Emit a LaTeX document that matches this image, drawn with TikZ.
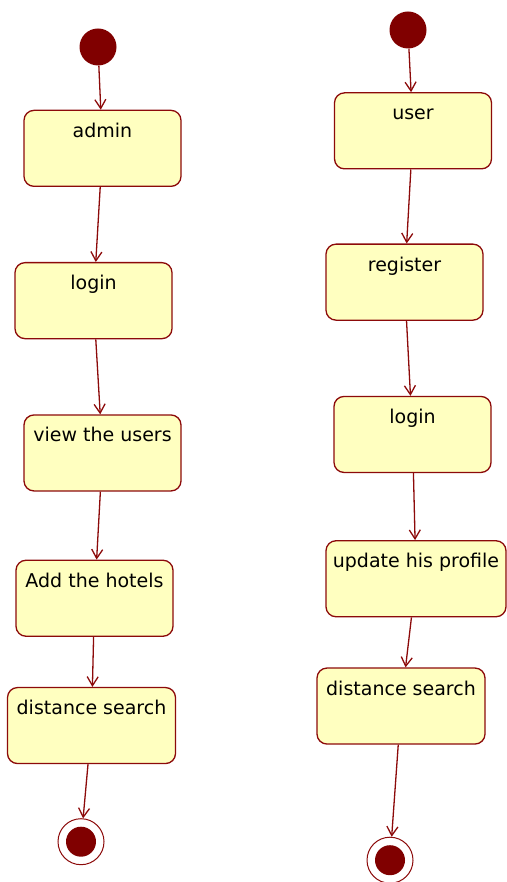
\documentclass[tikz,border=0pt]{standalone}
\usepackage{fontspec}
\setmainfont{DejaVu Sans}
\usetikzlibrary{positioning,arrows.meta}

\definecolor{umlred}{RGB}{128,0,0}
\definecolor{umlline}{RGB}{140,10,10}
\definecolor{umlfill}{RGB}{255,255,192}

\begin{document}
\begin{tikzpicture}[x=1pt,y=-1pt,node distance=76pt,
    activity/.style={rectangle,rounded corners=10pt,draw=umlline,fill=umlfill,line width=1.3pt,
      minimum width=157pt,inner xsep=4pt,inner ysep=6pt,text height=21pt,text depth=43pt,
      font=\fontsize{19}{22}\selectfont},
    initial/.style={circle,fill=umlred,minimum size=37pt,inner sep=0pt},
    final/.style={circle,draw=umlline,fill=white,line width=1pt,minimum size=46pt,inner sep=0pt,
      path picture={\fill[umlred] (path picture bounding box.center) circle (15pt);}},
    flow/.style={draw=umlline,line width=1.3pt,-{Straight Barb[length=9pt,width=11pt]}}]
  \useasboundingbox (0,0) rectangle (506,882);

  % admin side
  \node[initial] (startA) at (98,47) {};
  \node[activity] (admin) [below=44pt of startA, xshift=4.5pt] {admin};
  \node[activity] (loginA) [below=75pt of admin, xshift=-9pt] {login};
  \node[activity] (viewusers) [below=75pt of loginA, xshift=9pt] {view the users};
  \node[activity] (addhotels) [below=68pt of viewusers, xshift=-8pt] {Add the hotels};
  \node[activity,minimum width=168pt] (searchA) [below=50pt of addhotels, xshift=-3pt] {distance search};
  \node[final] (endA) [below=54pt of searchA, xshift=-10.5pt] {};

  % user side
  \node[initial] (startU) at (408,30) {};
  \node[activity] (user) [below=43.5pt of startU, xshift=5pt] {user};
  \node[activity] (register) [below=74pt of user, xshift=-8.5pt] {register};
  \node[activity] (loginU) [below=75pt of register, xshift=8pt] {login};
  \node[activity,minimum width=180pt] (profile) [below=67pt of loginU, xshift=3.5pt] {update his profile};
  \node[activity,minimum width=168pt] (searchU) [below=50pt of profile, xshift=-15pt] {distance search};
  \node[final] (endU) [below=92pt of searchU, xshift=-11pt] {};

  \path[flow]
    (startA)    edge (admin)
    (admin)     edge (loginA)
    (loginA)    edge (viewusers)
    (viewusers) edge (addhotels)
    (addhotels) edge (searchA)
    (searchA)   edge (endA);

  \path[flow]
    (startU)    edge (user)
    (user)      edge (register)
    (register)  edge (loginU)
    (loginU)    edge (profile)
    (profile)   edge (searchU)
    (searchU)   edge (endU);

\end{tikzpicture}
\end{document}
